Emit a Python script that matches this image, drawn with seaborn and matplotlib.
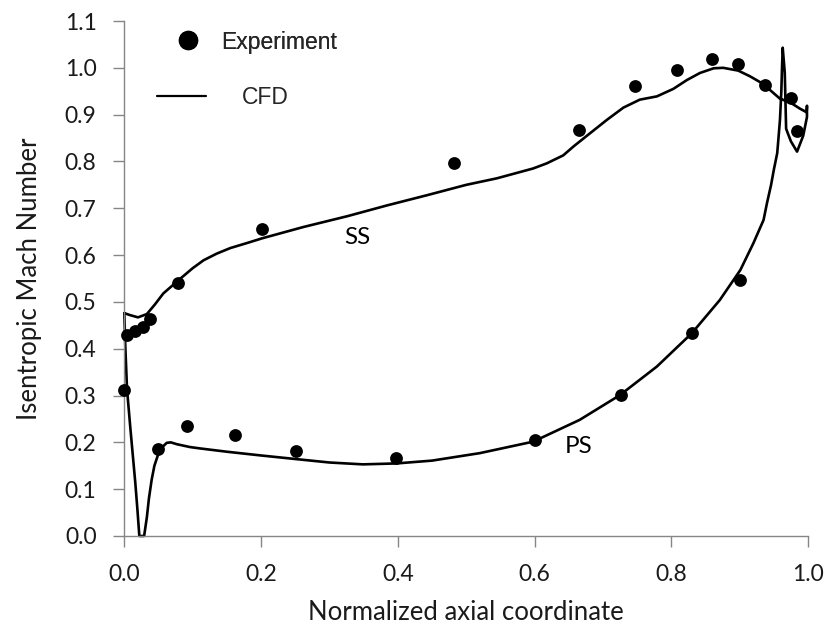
import matplotlib
matplotlib.use("Agg")
import matplotlib.pyplot as plt
import seaborn as sns
import pandas as pd
from matplotlib.lines import Line2D

# ---- data ----
exp_x = [0.0, 0.004, 0.016, 0.027, 0.037, 0.079, 0.202, 0.482, 0.665, 0.747, 0.808,
         0.860, 0.898, 0.937, 0.975, 0.984,
         0.050, 0.091, 0.162, 0.251, 0.398, 0.601, 0.727, 0.830, 0.901]
exp_y = [0.312, 0.430, 0.438, 0.447, 0.464, 0.541, 0.655, 0.796, 0.868, 0.962, 0.996,
         1.019, 1.008, 0.964, 0.936, 0.866,
         0.185, 0.234, 0.215, 0.181, 0.167, 0.204, 0.302, 0.434, 0.547]

cfd_x = [0.0, 0.008, 0.020, 0.033, 0.045, 0.057, 0.079, 0.100, 0.116, 0.135, 0.155,
         0.180, 0.202, 0.262, 0.326, 0.384, 0.443, 0.500, 0.545, 0.598, 0.618,
         0.642, 0.657, 0.681, 0.706, 0.730, 0.754, 0.779, 0.803, 0.823, 0.842,
         0.862, 0.876, 0.898, 0.915, 0.934, 0.959, 0.974, 0.988, 0.998, 0.9985,
         0.9985, 0.993, 0.984, 0.975, 0.970, 0.968, 0.967, 0.966, 0.963, 0.962,
         0.961, 0.959, 0.957, 0.955, 0.950, 0.946, 0.940, 0.935, 0.920, 0.901,
         0.871, 0.830, 0.779, 0.725, 0.666, 0.598, 0.520, 0.450, 0.398, 0.349,
         0.300, 0.253, 0.200, 0.150, 0.111, 0.096, 0.077, 0.068, 0.062, 0.055,
         0.049, 0.044, 0.040, 0.036, 0.033, 0.029, 0.022, 0.019, 0.016, 0.009,
         0.004, 0.0015, 0.0]
cfd_y = [0.476, 0.472, 0.467, 0.474, 0.495, 0.518, 0.546, 0.572, 0.589, 0.603, 0.615,
         0.626, 0.636, 0.660, 0.683, 0.706, 0.728, 0.750, 0.764, 0.785, 0.796,
         0.813, 0.832, 0.860, 0.889, 0.915, 0.932, 0.939, 0.955, 0.974, 0.989,
         0.999, 1.000, 0.994, 0.982, 0.966, 0.934, 0.926, 0.913, 0.905, 0.919,
         0.895, 0.855, 0.821, 0.843, 0.862, 0.870, 0.930, 0.990, 1.043, 1.000,
         0.950, 0.889, 0.853, 0.818, 0.782, 0.750, 0.711, 0.675, 0.625, 0.568,
         0.504, 0.433, 0.362, 0.301, 0.248, 0.2015, 0.177, 0.161, 0.155, 0.153,
         0.157, 0.164, 0.172, 0.180, 0.187, 0.190, 0.196, 0.200, 0.199, 0.189,
         0.172, 0.150, 0.120, 0.080, 0.040, 0.0, 0.0, 0.060, 0.115, 0.228,
         0.313, 0.404, 0.476]

x_ticks = [0.0, 0.2, 0.4, 0.6, 0.8, 1.0]
y_ticks = [0.0, 0.1, 0.2, 0.3, 0.4, 0.5, 0.6, 0.7, 0.8, 0.9, 1.0, 1.1]
x_label = "Normalized axial coordinate"
y_label = "Isentropic Mach Number"
series_names = ["Experiment", "CFD"]
annotations = [("SS", 0.341, 0.638), ("PS", 0.665, 0.191)]

# ---- plot ----
sns.set_style("ticks")
plt.rcParams["font.family"] = ["Lato", "DejaVu Sans"]

fig = plt.figure(figsize=(8.26, 6.26), dpi=100)
ax = fig.add_axes([124.3 / 826, 90 / 626, (808 - 124.3) / 826, (536 - 21) / 626])

df_cfd = pd.DataFrame({"x": cfd_x, "y": cfd_y})
df_exp = pd.DataFrame({"x": exp_x, "y": exp_y})

sns.lineplot(data=df_cfd, x="x", y="y", sort=False, estimator=None, ax=ax,
             color="black", linewidth=1.9, clip_on=False, zorder=2)
ax.lines[-1].set_solid_joinstyle("round")
sns.scatterplot(data=df_exp, x="x", y="y", ax=ax, color="black", s=85,
                edgecolor="black", linewidth=0, clip_on=False, zorder=3)

ax.set_xlim(0, 1.0)
ax.set_ylim(0, 1.1)
ax.set_xticks(x_ticks)
ax.set_yticks(y_ticks)
ax.set_xticklabels([f"{v:.1f}" for v in x_ticks])
ax.set_yticklabels([f"{v:.1f}" for v in y_ticks])

for name, xx, yy in annotations:
    ax.text(xx, yy, name, ha="center", va="center", fontsize=17.5, color="black")

sns.despine(ax=ax)
spine_c = "#868686"
for s in ["left", "bottom"]:
    ax.spines[s].set_color(spine_c)
    ax.spines[s].set_linewidth(1.0)
ax.tick_params(axis="both", colors=spine_c, direction="out", length=8, width=1.0,
               labelcolor="#1a1a1a", labelsize=16.5)
ax.tick_params(axis="x", pad=12)
ax.tick_params(axis="y", pad=12)

ax.set_xlabel(x_label, fontsize=18.5, color="#1a1a1a")
ax.set_ylabel(y_label, fontsize=18.5, color="#1a1a1a")
ax.xaxis.set_label_coords(0.5, (536 - 612) / 515)
ax.yaxis.set_label_coords((30 - 124.3) / 683.7, 0.5)
ax.xaxis.label.set_va("center")
ax.yaxis.label.set_va("center")

# legends (two separate entries as in the reference)
leg_font = {"family": ["Liberation Sans", "DejaVu Sans"], "size": 16.5}
h1 = Line2D([], [], marker="o", color="black", linestyle="None", markersize=13)
leg1 = fig.legend([h1], [series_names[0]], loc="center left",
                  bbox_to_anchor=(176.5 / 826, 1 - 42 / 626), frameon=False,
                  prop=leg_font, handlelength=1.0, handletextpad=0.95,
                  borderpad=0, borderaxespad=0)
h2 = Line2D([], [], color="black", linewidth=1.6)
leg2 = fig.legend([h2], [series_names[1]], loc="center left",
                  bbox_to_anchor=(157 / 826, 1 - 98 / 626), frameon=False,
                  prop=leg_font, handlelength=2.14, handletextpad=1.55,
                  borderpad=0, borderaxespad=0)
fig.add_artist(leg1)

fig.savefig("out.png", dpi=100)
